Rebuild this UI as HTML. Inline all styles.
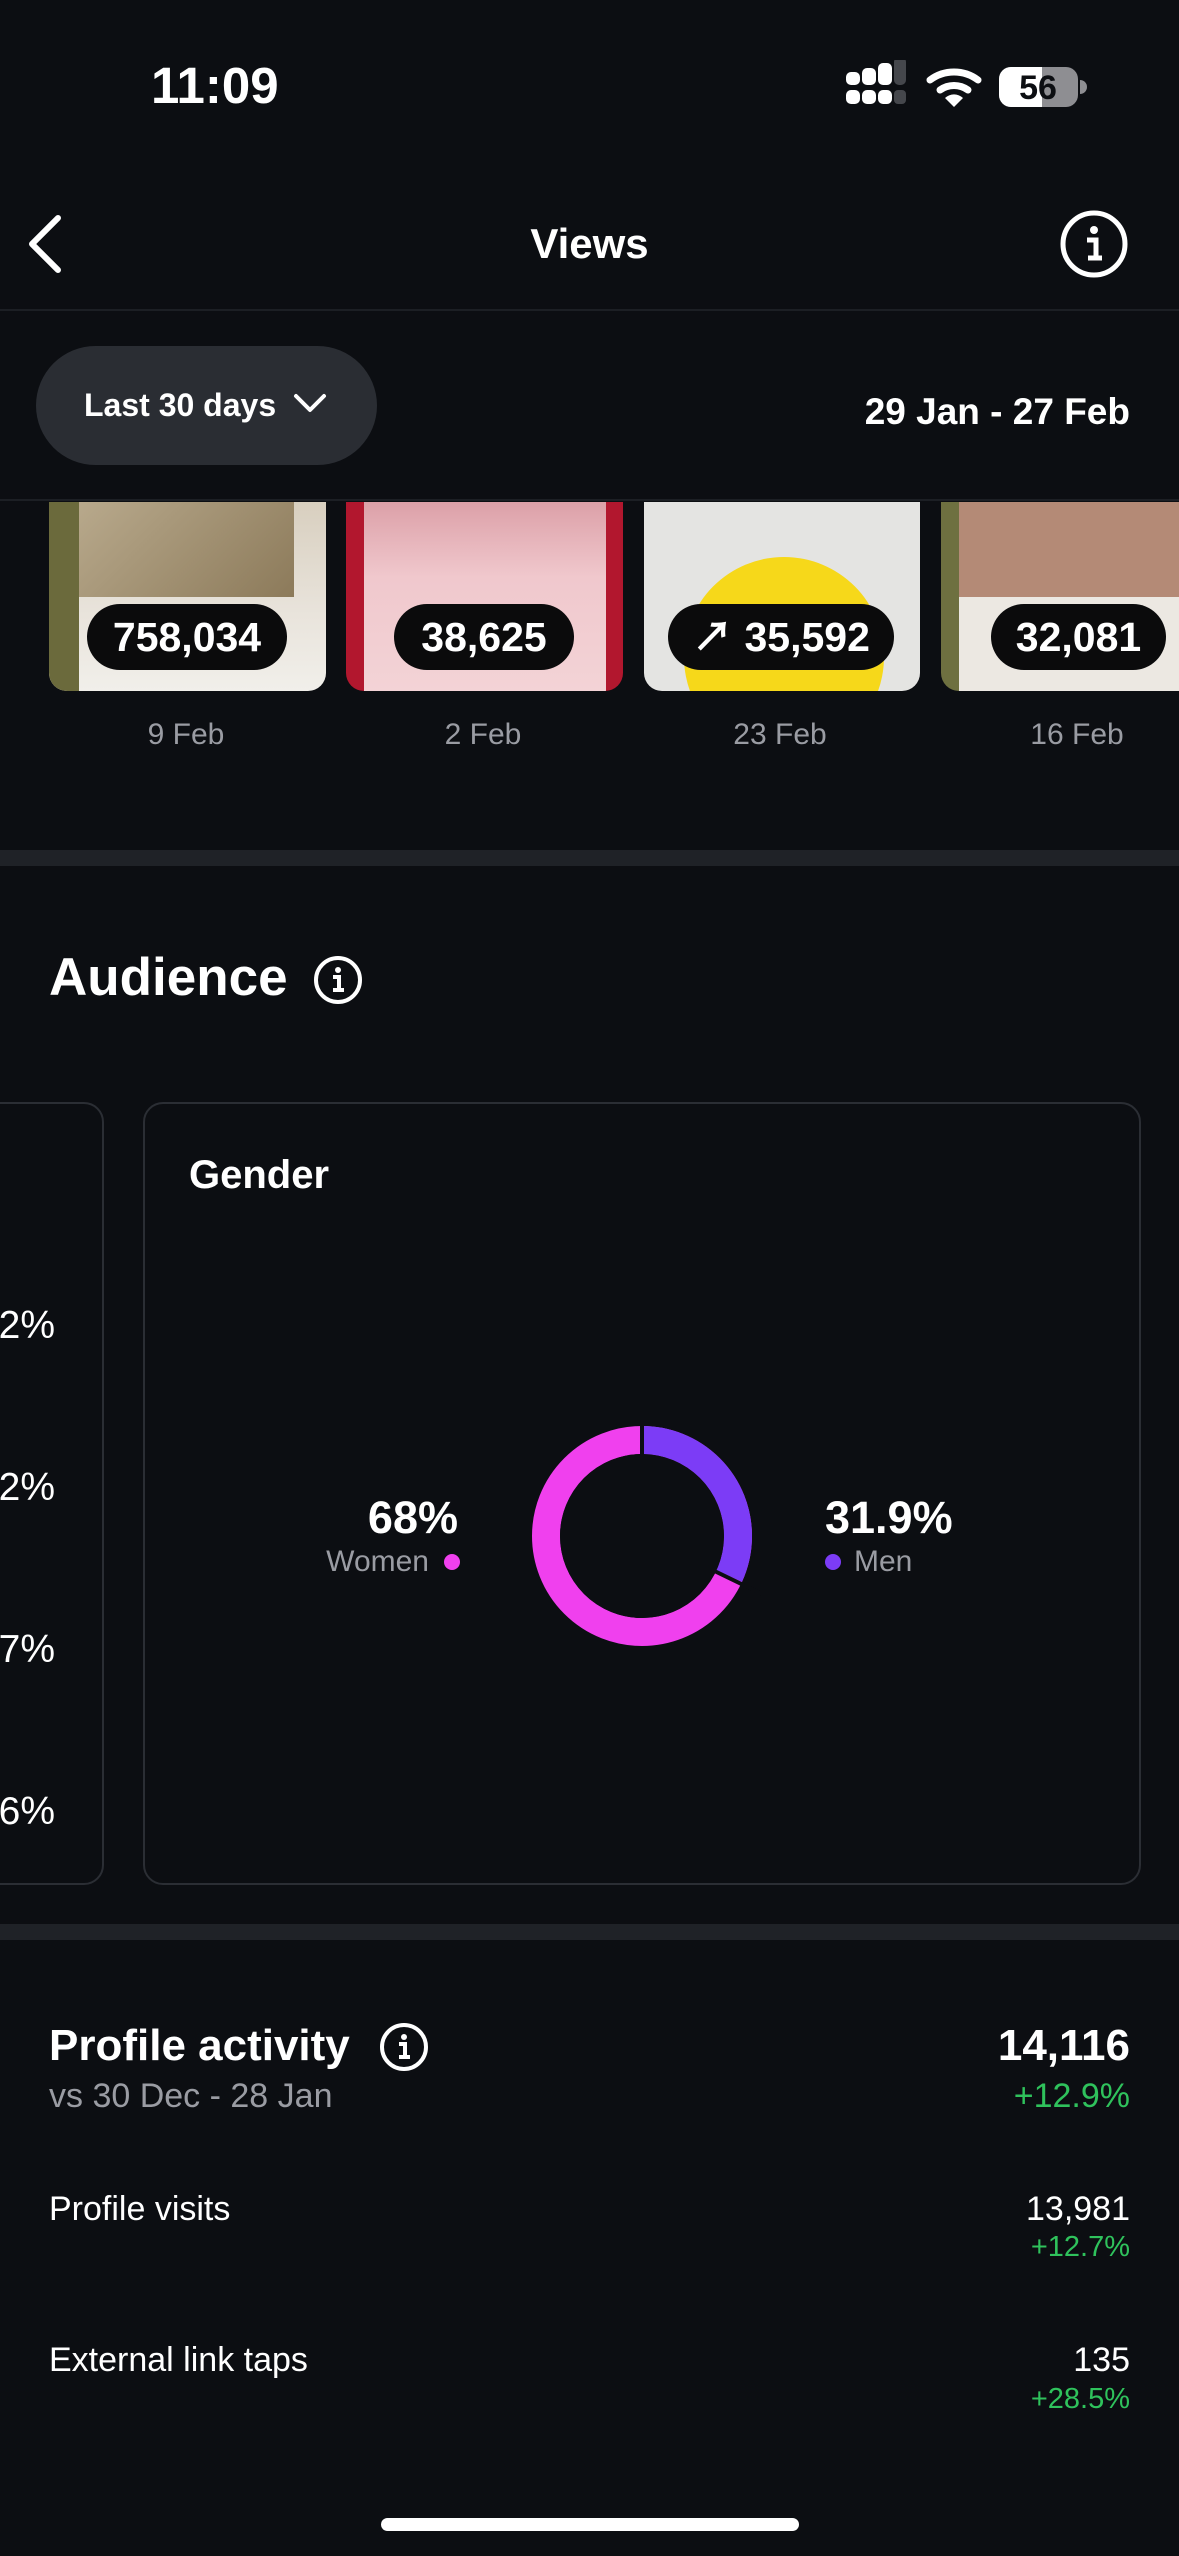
<!DOCTYPE html>
<html><head><meta charset="utf-8"><style>
*{margin:0;padding:0;box-sizing:border-box}
body{width:1179px;height:2556px;background:#0c0e12;position:relative;overflow:hidden;font-family:"Liberation Sans","Noto Sans CJK SC",sans-serif;color:#fff}
.a{position:absolute;white-space:nowrap}
.b{font-weight:bold}
.g{color:#9a9ca3}
.gr{color:#2fc25c}
.card{position:absolute;top:502px;height:189px;border-radius:0 0 18px 18px;overflow:hidden}
.badge{position:absolute;top:604px;height:66px;border-radius:33px;background:#0b0b0c;color:#fff;font-weight:bold;font-size:41px;line-height:66px;text-align:center}
.dt{position:absolute;top:718px;font-size:30px;color:#9a9ca3;text-align:center;width:200px}
</style></head><body>
<div class="a b" style="left:151px;top:58px;font-size:51px;line-height:56px">11:09</div>
<svg class="a" style="left:840px;top:60px" width="250" height="56">
<rect x="6" y="12" width="14" height="13" rx="5" fill="#fff"/><rect x="22" y="8" width="14" height="17" rx="5" fill="#fff"/><rect x="38" y="3" width="14" height="22" rx="5" fill="#fff"/><rect x="54" y="-3" width="12" height="28" rx="5" fill="#45474c"/>
<rect x="6" y="30" width="14" height="14" rx="5" fill="#fff"/><rect x="22" y="30" width="14" height="14" rx="5" fill="#fff"/><rect x="38" y="30" width="14" height="14" rx="5" fill="#fff"/><rect x="54" y="30" width="12" height="14" rx="4" fill="#45474c"/>
<path d="M90 20 A40 40 0 0 1 138 20" stroke="#fff" stroke-width="7" fill="none" stroke-linecap="round"/>
<path d="M100 30 A24 24 0 0 1 128 30" stroke="#fff" stroke-width="7" fill="none" stroke-linecap="round"/>
<path d="M114 47 L105 38 A13 13 0 0 1 123 38 Z" fill="#fff"/>
<rect x="159" y="7" width="79" height="40" rx="12" fill="#8e8e92"/>
<path d="M171 7 H202 V47 H171 A12 12 0 0 1 159 35 V19 A12 12 0 0 1 171 7Z" fill="#fff"/>
<path d="M240 20 A7 7 0 0 1 240 34Z" fill="#8e8e92"/>
<text x="198" y="39" font-size="34" font-weight="bold" fill="#0c0e12" text-anchor="middle" font-family="Liberation Sans">56</text>
</svg>
<svg class="a" style="left:22px;top:212px" width="44" height="64"><path d="M36 6 L10 32 L36 58" stroke="#fff" stroke-width="6" fill="none" stroke-linecap="round" stroke-linejoin="round"/></svg>
<div class="a b" style="left:0;width:1179px;text-align:center;top:220px;font-size:42px;line-height:48px">Views</div>
<svg class="a" style="left:1058px;top:208px" width="72" height="72"><circle cx="36" cy="36" r="31" stroke="#fff" stroke-width="5" fill="none"/><circle cx="36" cy="22" r="4" fill="#fff"/><path d="M29 32 H38 V50 M30 50 H44" stroke="#fff" stroke-width="5" fill="none"/></svg>
<div class="a" style="left:0;top:309px;width:1179px;height:2px;background:#1c1f24"></div>
<div class="a" style="left:36px;top:346px;width:341px;height:119px;border-radius:60px;background:#2a2d33"></div>
<div class="a b" style="left:84px;top:387px;font-size:32px;line-height:36px">Last 30 days</div>
<svg class="a" style="left:292px;top:390px" width="36" height="28"><path d="M4 6 L18 20 L32 6" stroke="#fff" stroke-width="4" fill="none" stroke-linecap="round" stroke-linejoin="round"/></svg>
<div class="a b" style="right:49px;top:391px;font-size:37px;line-height:42px">29 Jan - 27 Feb</div>
<div class="a" style="left:0;top:499px;width:1179px;height:2px;background:#1c1f24"></div>
<div class="card" style="left:49px;width:277px;background:linear-gradient(180deg,#d8cfbf 0%,#e9e4dc 60%,#f1efea 100%)"><div style="position:absolute;left:0;top:0;width:30px;height:189px;background:#6b6a3c"></div><div style="position:absolute;left:30px;top:0;width:215px;height:95px;background:linear-gradient(135deg,#b8a98c,#8c7a5a)"></div></div>
<div class="card" style="left:346px;width:277px;background:#b2172e"><div style="position:absolute;left:18px;top:0;width:242px;height:189px;background:linear-gradient(180deg,#dca0a8 0%,#f0c8cd 40%,#f3d3d6 100%)"></div></div>
<div class="card" style="left:644px;width:276px;background:#e4e4e2"><div style="position:absolute;left:40px;top:55px;width:200px;height:200px;border-radius:50%;background:#f6d81a"></div></div>
<div class="card" style="left:941px;width:260px;background:#6e7040"><div style="position:absolute;left:18px;top:0;width:230px;height:95px;background:#b48a76"></div><div style="position:absolute;left:18px;top:95px;width:230px;height:94px;background:#ece8e2"></div></div>
<div class="badge" style="left:87px;width:200px">758,034</div>
<div class="badge" style="left:394px;width:180px">38,625</div>
<div class="badge" style="left:668px;width:226px">↗ 35,592</div>
<div class="badge" style="left:991px;width:175px">32,081</div>
<div class="dt" style="left:86px">9 Feb</div>
<div class="dt" style="left:383px">2 Feb</div>
<div class="dt" style="left:680px">23 Feb</div>
<div class="dt" style="left:977px">16 Feb</div>
<div class="a" style="left:0;top:850px;width:1179px;height:16px;background:#1f2227"></div>
<div class="a b" style="left:49px;top:948px;font-size:53px;line-height:60px">Audience</div>
<svg class="a" style="left:312px;top:954px" width="52" height="52"><circle cx="26" cy="26" r="22" stroke="#fff" stroke-width="4" fill="none"/><circle cx="26" cy="16" r="3" fill="#fff"/><path d="M21 23 H27 V36 M21 36 H32" stroke="#fff" stroke-width="4" fill="none"/></svg>
<div class="a" style="left:-40px;top:1102px;width:144px;height:783px;border:2px solid #2b2e34;border-radius:20px"></div>
<div class="a" style="left:143px;top:1102px;width:998px;height:783px;border:2px solid #2b2e34;border-radius:20px"></div>
<div class="a" style="right:1124px;top:1306px;font-size:39px;line-height:40px">2%</div>
<div class="a" style="right:1124px;top:1468px;font-size:39px;line-height:40px">2%</div>
<div class="a" style="right:1124px;top:1630px;font-size:39px;line-height:40px">7%</div>
<div class="a" style="right:1124px;top:1792px;font-size:39px;line-height:40px">6%</div>
<div class="a b" style="left:189px;top:1153px;font-size:40px;line-height:44px">Gender</div>
<svg class="a" style="left:522px;top:1416px" width="240" height="240">
<circle cx="120" cy="120" r="96" fill="none" stroke="#f040ee" stroke-width="28"/>
<circle cx="120" cy="120" r="96" fill="none" stroke="#7c3cf6" stroke-width="28" stroke-dasharray="192 411" transform="rotate(-90 120 120)"/>
<line x1="120" y1="10" x2="120" y2="40" stroke="#0c0e12" stroke-width="4"/>
<line x1="120" y1="120" x2="240" y2="178" stroke="#0c0e12" stroke-width="4"/>
<circle cx="120" cy="120" r="82" fill="#0c0e12"/>
</svg>
<div class="a b" style="right:721px;top:1493px;font-size:45px;line-height:50px">68%</div>
<div class="a g" style="right:750px;top:1546px;font-size:30px;line-height:32px">Women</div>
<div class="a" style="left:444px;top:1554px;width:16px;height:16px;border-radius:50%;background:#f040ee"></div>
<div class="a b" style="left:825px;top:1493px;font-size:45px;line-height:50px">31.9%</div>
<div class="a" style="left:825px;top:1554px;width:16px;height:16px;border-radius:50%;background:#7c3cf6"></div>
<div class="a g" style="left:854px;top:1546px;font-size:30px;line-height:32px">Men</div>
<div class="a" style="left:0;top:1924px;width:1179px;height:16px;background:#1f2227"></div>
<div class="a b" style="left:49px;top:2022px;font-size:44px;line-height:48px">Profile activity</div>
<svg class="a" style="left:378px;top:2021px" width="52" height="52"><circle cx="26" cy="26" r="22" stroke="#fff" stroke-width="4" fill="none"/><circle cx="26" cy="16" r="3" fill="#fff"/><path d="M21 23 H27 V36 M21 36 H32" stroke="#fff" stroke-width="4" fill="none"/></svg>
<div class="a g" style="left:49px;top:2077px;font-size:34px;line-height:38px">vs 30 Dec - 28 Jan</div>
<div class="a b" style="right:49px;top:2022px;font-size:44px;line-height:48px">14,116</div>
<div class="a gr" style="right:49px;top:2077px;font-size:34px;line-height:38px">+12.9%</div>
<div class="a" style="left:49px;top:2190px;font-size:34px;line-height:38px">Profile visits</div>
<div class="a" style="right:49px;top:2190px;font-size:34px;line-height:38px">13,981</div>
<div class="a gr" style="right:49px;top:2231px;font-size:29px;line-height:32px">+12.7%</div>
<div class="a" style="left:49px;top:2341px;font-size:34px;line-height:38px">External link taps</div>
<div class="a" style="right:49px;top:2341px;font-size:34px;line-height:38px">135</div>
<div class="a gr" style="right:49px;top:2383px;font-size:29px;line-height:32px">+28.5%</div>
<div class="a" style="left:381px;top:2518px;width:418px;height:13px;border-radius:7px;background:#fff"></div>
</body></html>
